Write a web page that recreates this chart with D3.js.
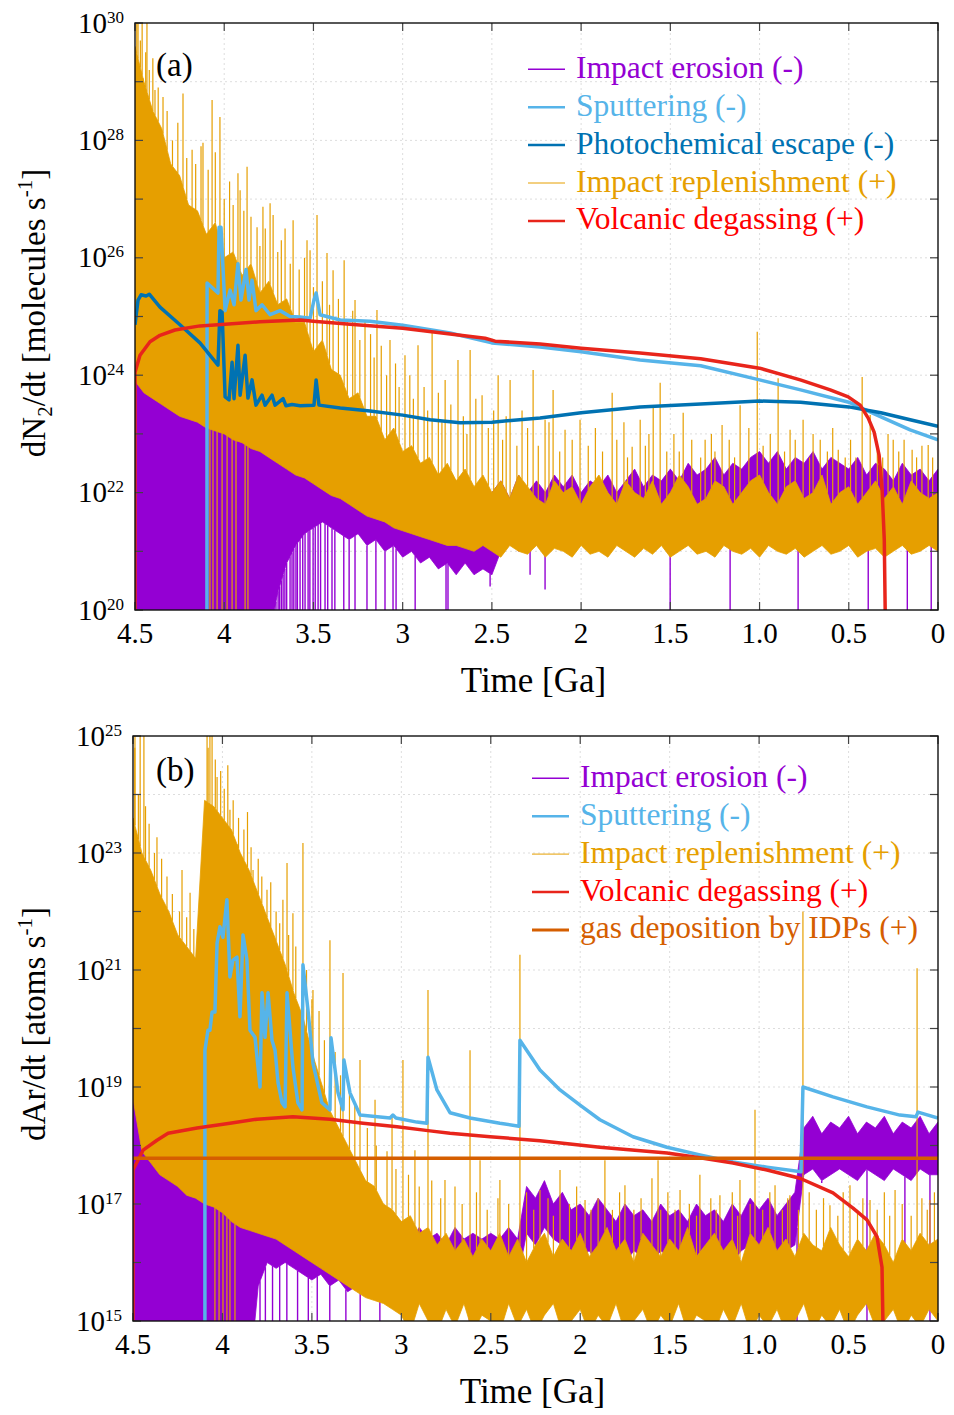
<!DOCTYPE html>
<html>
<head>
<meta charset="utf-8">
<script src="https://cdn.jsdelivr.net/npm/d3@7"></script>
<style>
  body { margin: 0; background: #fff; }
  svg { font-family: "Liberation Serif", "Times New Roman", serif; }
</style>
</head>
<body>
<svg id="chart" width="954" height="1415"></svg>
<script>
// ---- data (all values are log10 of the rate) ----
const xTicks = [4.5, 4, 3.5, 3, 2.5, 2, 1.5, 1, 0.5, 0];
const xTickLabels = ["4.5", "4", "3.5", "3", "2.5", "2", "1.5", "1.0", "0.5", "0"];
const yTicksA = [20, 22, 24, 26, 28, 30];
const yTicksB = [15, 17, 19, 21, 23, 25];

// sample times for the noisy impact bands [Ga]
const bandT = [4.5,4.45,4.4,4.35,4.3,4.25,4.2,4.15,4.1,4.05, 4.0,3.95,3.9,3.85,3.8,3.75,3.7,3.65,3.6,3.55,
  3.5,3.45,3.4,3.35,3.3,3.25,3.2,3.15,3.1,3.05, 3.0,2.95,2.9,2.85,2.8,2.75,2.7,2.65,2.6,2.55,
  2.5,2.45,2.4,2.35,2.3,2.25,2.2,2.15,2.1,2.05, 2.0,1.95,1.9,1.85,1.8,1.75,1.7,1.65,1.6,1.55,
  1.5,1.45,1.4,1.35,1.3,1.25,1.2,1.15,1.1,1.05, 1.0,0.95,0.9,0.85,0.8,0.75,0.7,0.65,0.6,0.55,
  0.5,0.45,0.4,0.35,0.3,0.25,0.2,0.15,0.1,0.05, 0];

// panel (a) N2
const aRepHi = [29.6,29.0,28.5,28.2,27.6,27.4,26.9,26.8,26.4,26.6, 26.0,26.1,25.7,25.9,25.4,25.6,25.2,25.3,24.9,24.9,
  24.4,24.6,24.1,24.0,23.6,23.7,23.3,23.3,22.9,23.1, 22.7,22.8,22.5,22.6,22.3,22.5,22.2,22.4,22.1,22.3,
  22.0,22.2,21.9,22.3,22.1,21.9,21.8,22.2,22.0,22.1, 21.8,22.1,22.3,22.0,21.8,22.2,22.0,21.9,22.2,21.8,
  22.0,22.3,22.1,21.8,21.9,22.2,22.1,21.8,22.0,22.2, 22.3,22.0,21.8,22.1,22.2,21.9,22.0,22.3,21.8,22.0,
  22.1,21.8,22.0,22.2,21.9,22.1,21.8,22.2,22.0,21.9, 22.0];
const aRepLo = [23.9,23.7,23.6,23.5,23.4,23.3,23.25,23.2,23.1,23.05, 23.0,22.9,22.85,22.75,22.7,22.6,22.5,22.4,22.3,22.25,
  22.15,22.05,21.95,21.9,21.8,21.7,21.6,21.55,21.5,21.4, 21.35,21.3,21.25,21.2,21.15,21.1,21.1,21.05,21.0,21.1,
  21.0,20.9,21.1,21.0,20.95,21.1,20.9,21.05,21.0,20.9, 21.1,20.95,21.0,20.9,21.1,21.0,20.9,21.05,20.95,21.1,
  20.9,21.0,21.1,20.95,21.0,20.9,21.1,21.0,20.95,21.05, 20.9,21.1,21.0,20.95,21.05,20.9,21.0,21.1,20.95,21.0,
  21.1,20.9,21.0,21.05,20.9,21.0,21.1,20.95,21.0,21.1, 21.0];
const aEroHi = [26.5,26.0,25.8,25.5,25.2,25.0,24.8,24.6,24.4,24.2, 24.0,23.8,23.6,23.5,23.3,23.1,23.0,22.9,22.8,22.6,
  22.5,22.4,22.3,22.2,22.1,22.0,21.9,21.9,21.8,21.8, 21.7,21.8,21.6,21.7,21.5,21.6,21.5,21.6,21.4,21.5,
  22.0,22.2,21.9,22.3,22.0,22.2,22.0,22.3,22.1,22.3, 22.0,22.2,22.1,22.3,22.0,22.2,22.4,22.1,22.3,22.2,
  22.4,22.2,22.5,22.3,22.4,22.6,22.3,22.5,22.4,22.6, 22.7,22.5,22.7,22.4,22.6,22.5,22.7,22.4,22.6,22.5,
  22.4,22.6,22.3,22.5,22.4,22.2,22.5,22.3,22.4,22.2, 22.4];
const aEroLo = [19,19,19,19,19,19,19,19,19,19, 19,19,19,19,19,19.5,20.3,20.8,21.1,21.3,
  21.4,21.5,21.4,21.3,21.2,21.3,21.1,21.2,21.0,21.1, 20.9,21.0,20.8,20.9,20.7,20.8,20.6,20.8,20.6,20.7,
  20.6,21.0,21.2,21.0,21.1,21.2,21.0,21.2,21.1,21.2, 21.2,21.3,21.4,21.3,21.5,21.4,21.3,21.5,21.4,21.5,
  21.5,21.4,21.6,21.5,21.6,21.5,21.7,21.5,21.6,21.5, 21.6,21.7,21.5,21.6,21.7,21.5,21.6,21.7,21.5,21.6,
  21.6,21.5,21.7,21.5,21.6,21.5,21.4,21.6,21.5,21.4, 21.5];
const aRepSpikes = [[4.49,30],[4.483,30],[4.47,29.7],[4.46,30],[4.455,28.98],[4.44,29.5],[4.433,30],[4.42,29.2],
  [4.40,29.4],[4.388,28.86],[4.37,28.9],[4.343,28.74],[4.32,28.5],[4.29,28.0],[4.26,28.3],[4.231,28.8],[4.21,27.7],
  [4.18,27.84],[4.16,27.6],[4.13,27.9],[4.119,27.96],[4.09,27.5],[4.068,28.69],[4.05,27.8],[4.024,28.4],[4.0,27.0],
  [3.97,27.3],[3.95,26.9],[3.923,27.44],[3.911,27.15],[3.89,26.8],[3.872,27.55],[3.85,26.7],[3.816,26.52],
  [3.80,26.2],[3.783,26.87],[3.77,26.5],[3.743,26.93],[3.726,26.73],[3.70,26.1],[3.68,26.3],[3.659,26.5],
  [3.63,25.9],[3.614,26.64],[3.58,25.8],[3.55,26.0],[3.536,26.3],[3.519,26.13],[3.50,25.5],[3.48,26.73],
  [3.45,25.6],[3.424,26.08],[3.41,25.2],[3.39,25.79],[3.36,25.3],[3.328,25.96],[3.31,24.9],[3.28,25.1],
  [3.267,25.28],[3.24,24.6],[3.211,24.94],[3.18,24.7],[3.16,24.3],[3.144,25.11],[3.12,24.5],[3.09,24.0],
  [3.071,24.6],[3.04,24.2],[3.02,23.8],[2.987,24.34],[2.96,24.0],[2.94,23.6],[2.914,24.51],[2.88,23.8],
  [2.86,23.4],[2.835,24.72],[2.80,23.7],[2.78,23.2],[2.762,23.92],[2.73,23.5],[2.69,24.26],[2.66,23.3],
  [2.64,23.0],[2.622,24.43],[2.59,23.6],[2.555,23.66],[2.52,23.1],[2.49,23.4],[2.465,24.0],[2.44,22.9],
  [2.42,23.3],[2.398,23.92],[2.36,22.8],[2.331,23.4],[2.30,23.1],[2.269,24.09],[2.24,22.8],[2.202,23.24],
  [2.18,23.2],[2.157,23.75],[2.12,22.7],[2.09,23.07],[2.05,22.9],[2.006,23.24],[1.96,22.8],[1.92,23.1],
  [1.88,22.7],[1.826,23.7],[1.80,22.9],[1.76,23.2],[1.74,22.6],[1.714,22.78],[1.669,23.24],[1.64,22.8],
  [1.62,23.0],[1.596,23.46],[1.557,23.87],[1.52,22.7],[1.48,23.0],[1.45,22.7],[1.428,23.36],[1.38,22.9],
  [1.33,22.6],[1.305,22.9],[1.27,23.0],[1.25,22.7],[1.21,23.15],[1.17,22.9],[1.14,22.6],[1.109,23.49],
  [1.06,23.1],[1.013,24.74],[0.98,22.8],[0.94,23.0],[0.896,23.95],[0.86,22.7],[0.829,23.07],[0.80,22.9],
  [0.756,23.24],[0.72,22.6],[0.70,23.0],[0.66,22.9],[0.62,22.7],[0.59,23.1],[0.559,22.73],[0.52,22.6],
  [0.49,22.9],[0.46,22.6],[0.425,23.97],[0.38,23.32],[0.34,22.8],[0.31,22.6],[0.28,23.0],[0.251,22.9],
  [0.22,22.7],[0.19,22.9],[0.145,22.73],[0.12,22.6],[0.09,22.8],[0.055,22.81],[0.03,22.6]];
const aRepDips = [[4.08,19],[4.063,19],[4.04,19],[4.012,19],[3.984,19],[3.956,19],[3.934,19],[3.883,19],[3.867,19]];
const aEroDips = [[3.79,19],[3.783,19],[3.77,19],[3.76,19],[3.754,19],[3.74,19],[3.732,19],[3.72,19],[3.71,19],
  [3.698,19],[3.69,19],[3.68,19],[3.67,19],[3.66,19],[3.65,19],[3.631,19],[3.62,19],[3.61,19],[3.598,19],[3.59,19],
  [3.575,19],[3.56,19],[3.547,19],[3.53,19],[3.52,19],[3.502,19],[3.49,19],[3.474,19],[3.46,19],[3.435,19],
  [3.42,19],[3.396,19],[3.38,19],[3.33,19],[3.30,19],[3.267,19],[3.20,19],[3.15,19],[3.099,19],[3.054,19],
  [3.037,19],[2.93,19],[2.757,19],[2.746,19],[2.51,20.4],[2.286,20.6],[2.202,20.35],[1.501,19],[1.165,19],
  [0.784,19],[0.391,19],[0.172,19],[0.038,19]];
const aSputter = [[4.097,19],[4.096,25.57],[4.035,25.4],[4.029,26.52],[4.018,26.52],[3.995,25.1],[3.967,25.45],
  [3.945,25.2],[3.923,25.9],[3.906,25.28],[3.878,25.8],[3.861,25.28],[3.844,25.62],[3.822,25.1],[3.788,25.2],
  [3.743,25.03],[3.687,25.1],[3.631,25.0],[3.575,24.99],[3.519,24.97],[3.497,25.28],[3.485,25.4],[3.463,25.03],
  [3.35,24.94],[3.183,24.92],[3.0,24.85],[2.734,24.72],[2.5,24.55],[2.23,24.48],[2.0,24.4],[1.67,24.26],
  [1.33,24.16],[1.0,23.92],[0.77,23.75],[0.5,23.54],[0.32,23.29],[0.156,23.07],[0,22.9]];
const aPhoto = [[4.5,24.86],[4.483,25.28],[4.466,25.37],[4.438,25.35],[4.42,25.38],[4.36,25.16],[4.248,24.86],
  [4.136,24.55],[4.035,24.17],[4.024,25.1],[4.012,25.07],[3.995,23.63],[3.973,23.58],[3.956,24.22],[3.945,23.6],
  [3.923,24.51],[3.911,23.66],[3.883,24.34],[3.867,23.61],[3.844,23.92],[3.822,23.49],[3.788,23.66],[3.771,23.49],
  [3.732,23.66],[3.715,23.49],[3.67,23.6],[3.654,23.48],[3.62,23.5],[3.575,23.48],[3.497,23.49],[3.485,23.92],
  [3.469,23.49],[3.35,23.44],[3.183,23.39],[3.0,23.32],[2.846,23.24],[2.678,23.19],[2.5,23.2],[2.23,23.27],
  [2.0,23.36],[1.67,23.46],[1.33,23.51],[1.0,23.56],[0.77,23.54],[0.5,23.46],[0.32,23.36],[0.156,23.24],[0,23.13]];
const aVolcanic = [[4.5,18],[4.5,24.05],[4.472,24.34],[4.416,24.57],[4.36,24.68],[4.276,24.77],[4.136,24.84],
  [3.995,24.87],[3.8,24.91],[3.575,24.94],[3.5,24.92],[3.295,24.87],[3.0,24.8],[2.734,24.7],[2.538,24.63],
  [2.482,24.58],[2.23,24.53],[2.0,24.46],[1.67,24.38],[1.33,24.28],[1.0,24.12],[0.772,23.92],[0.604,23.75],
  [0.503,23.63],[0.436,23.49],[0.391,23.27],[0.358,23.03],[0.33,22.64],[0.313,22.04],[0.301,21.19],[0.296,20],
  [0.295,18]];

// panel (b) Ar
const bRepHi = [23.6,23.0,22.7,22.3,22.0,21.6,21.4,21.2,23.9,23.8, 23.6,23.4,23.0,22.7,22.3,21.9,21.5,21.1,20.6,20.2,
  19.6,19.1,18.6,18.3,18.0,17.7,17.4,17.3,17.0,16.9, 16.7,16.8,16.5,16.6,16.3,16.5,16.2,16.4,16.1,16.4,
  16.2,16.5,16.1,16.4,16.0,16.3,16.5,16.1,16.4,16.2, 16.5,16.1,16.3,16.6,16.2,16.4,16.0,16.5,16.3,16.1,
  16.4,16.2,16.6,16.1,16.3,16.5,16.2,16.4,16.0,16.5, 16.3,16.6,16.2,16.4,16.1,16.5,16.3,16.2,16.6,16.3,
  16.1,16.4,16.2,16.5,16.3,16.0,16.4,16.2,16.5,16.3, 16.4];
const bRepLo = [18.8,17.9,17.7,17.5,17.4,17.3,17.15,17.1,17.0,16.95, 16.85,16.7,16.6,16.55,16.5,16.45,16.4,16.3,16.2,16.1,
  16.0,15.9,15.8,15.7,15.6,15.5,15.4,15.35,15.3,15.2, 15.1,14.8,15.3,15.0,14.8,15.2,14.9,15.3,14.8,15.1,
  15.0,14.8,15.3,14.9,15.2,14.8,15.1,15.3,14.8,15.0, 15.2,14.8,15.1,14.9,15.3,14.8,15.0,15.2,14.8,15.1,
  14.9,15.3,14.8,15.1,15.0,14.8,15.2,14.9,15.3,14.8, 15.1,14.9,15.2,14.8,15.0,15.3,14.8,15.1,14.9,15.2,
  14.8,15.1,15.3,14.9,15.0,15.2,14.8,15.1,14.9,15.2, 15.0];
const bEroHi = [23.0,22.5,22.2,21.9,21.7,21.4,21.2,20.9,20.5,20.3, 20.0,19.8,19.5,19.2,18.9,18.6,18.3,18.0,17.8,17.6,
  17.4,17.2,17.0,16.9,16.8,16.9,16.7,16.8,16.6,16.7, 16.5,16.3,16.6,16.4,16.5,16.3,16.6,16.4,16.5,16.4,
  16.5,16.4,16.6,16.4,17.3,17.1,17.4,17.0,17.2,16.9, 17.0,16.8,17.1,16.9,16.7,17.0,16.8,16.9,16.7,17.0,
  16.8,16.9,16.7,17.0,16.8,16.9,16.7,17.0,16.8,17.1, 16.9,17.1,16.8,17.0,17.2,18.3,18.5,18.2,18.4,18.3,
  18.5,18.2,18.4,18.3,18.5,18.2,18.4,18.3,18.5,18.2, 18.4];
const bEroLo = [14,14,14,14,14,14,14,14,14,14, 14,14,14,14,15.6,16.0,15.9,16.0,15.9,15.8,
  15.7,15.8,15.6,15.7,15.5,15.6,15.7,15.5,15.6,15.7, 15.8,15.6,15.9,15.7,15.8,15.6,15.9,15.7,15.8,15.9,
  15.7,15.9,15.8,15.7,16.5,16.3,16.6,16.4,16.3,16.2, 16.1,16.2,16.0,16.2,16.1,16.0,16.2,16.1,16.0,16.2,
  16.1,16.2,16.0,16.1,16.3,16.1,16.2,16.0,16.2,16.3, 16.2,16.3,16.1,16.2,16.3,17.5,17.6,17.4,17.5,17.6,
  17.5,17.4,17.6,17.5,17.4,17.6,17.5,17.4,17.6,17.5, 17.5];
const bRepSpikes = [[4.49,24.8],[4.489,25],[4.47,24.0],[4.46,25],[4.439,25],[4.43,23.8],[4.41,23.5],[4.38,23.0],
  [4.366,23.27],[4.34,22.9],[4.31,22.6],[4.28,22.3],[4.24,22.0],[4.226,22.71],[4.20,21.9],[4.181,22.32],[4.16,21.7],
  [4.086,25],[4.08,24.8],[4.07,25],[4.058,25],[4.04,24.6],[4.03,24.3],[4.01,24.4],[3.99,24.1],[3.97,24.5],
  [3.958,23.74],[3.94,23.9],[3.919,23.1],[3.91,23.6],[3.88,23.4],[3.86,23.7],[3.84,23.1],[3.829,22.71],[3.80,22.9],
  [3.78,22.6],[3.773,21.97],[3.751,22.37],[3.73,22.5],[3.70,22.0],[3.68,21.8],[3.662,22.2],[3.639,22.83],[3.63,21.6],
  [3.606,21.97],[3.59,21.4],[3.55,23.17],[3.53,21.0],[3.50,20.5],[3.494,20.66],[3.46,20.3],[3.43,19.8],[3.399,21.51],
  [3.37,19.6],[3.34,19.2],[3.326,20.95],[3.29,18.9],[3.26,18.7],[3.231,19.46],[3.19,18.3],[3.147,18.78],[3.14,18.0],
  [3.08,17.9],[3.052,18.49],[3.03,17.6],[2.991,19.46],[2.96,17.5],[2.924,17.92],[2.90,17.3],[2.851,20.66],[2.83,17.4],
  [2.78,17.1],[2.756,17.41],[2.70,17.3],[2.66,17.0],[2.616,19.63],[2.58,17.2],[2.56,17.75],[2.52,16.9],[2.46,17.1],
  [2.449,17.41],[2.40,17.0],[2.337,21.26],[2.30,17.2],[2.26,16.9],[2.225,17.24],[2.18,17.1],[2.15,16.8],[2.113,17.58],
  [2.06,17.0],[2.02,17.3],[1.973,17.07],[1.94,16.9],[1.90,17.1],[1.862,17.75],[1.82,16.9],[1.78,17.2],[1.75,17.32],
  [1.70,16.9],[1.66,17.1],[1.599,17.44],[1.565,17.75],[1.55,16.9],[1.51,17.2],[1.47,16.9],[1.442,17.24],[1.39,17.0],
  [1.35,16.8],[1.331,17.5],[1.27,17.1],[1.24,16.9],[1.219,17.15],[1.15,17.2],[1.12,16.8],[1.107,17.41],[1.05,17.0],
  [1.023,18.61],[0.98,16.9],[0.94,17.2],[0.911,17.32],[0.87,16.9],[0.84,17.1],[0.828,17.15],[0.78,16.9],[0.755,22.0],
  [0.72,17.2],[0.68,16.9],[0.64,17.1],[0.604,16.98],[0.56,16.8],[0.53,17.2],[0.492,17.32],[0.45,16.9],[0.42,17.1],
  [0.38,17.07],[0.34,16.9],[0.30,17.2],[0.27,16.8],[0.24,17.24],[0.20,17.0],[0.15,16.8],[0.117,21.03],[0.09,17.1],
  [0.06,16.9],[0.045,17.07],[0.02,17.2]];
const bRepDips = [[4.042,14],[4.019,14],[3.997,14],[3.975,14],[3.958,14],[3.93,14]];
const bEroDips = [[3.79,14],[3.76,14],[3.72,14],[3.68,14],[3.64,14],[3.58,14],[3.52,14],[3.47,14],[3.40,14],
  [3.31,14],[3.23,14],[3.12,14],[2.98,14],[2.84,14],[2.70,14],[2.62,14],[2.5,14],[2.45,14],[2.1,15.6],[1.9,15.5],
  [1.6,15.7],[1.3,15.6],[0.788,14],[0.65,17.36],[0.397,14],[0.185,14],[0.045,14]];
const bSputter = [[4.098,14],[4.098,19.63],[4.081,19.97],[4.07,19.97],[4.058,20.28],[4.042,20.28],[4.03,21.46],
  [4.014,21.74],[3.997,21.56],[3.975,22.2],[3.958,20.88],[3.941,21.17],[3.919,21.22],[3.902,20.2],[3.885,21.6],
  [3.863,21.17],[3.846,19.97],[3.818,19.85],[3.79,19.0],[3.779,20.61],[3.762,19.85],[3.745,20.61],[3.723,19.8],
  [3.706,19.63],[3.689,19.07],[3.667,18.73],[3.65,18.66],[3.639,20.61],[3.606,19.34],[3.578,18.73],[3.555,18.61],
  [3.55,21.09],[3.522,20.32],[3.494,19.41],[3.444,18.73],[3.399,18.61],[3.393,19.84],[3.354,18.9],[3.326,18.61],
  [3.321,19.46],[3.287,18.9],[3.231,18.52],[3.063,18.47],[3.047,18.52],[3.03,18.47],[2.913,18.4],[2.857,18.38],
  [2.851,19.51],[2.801,18.95],[2.728,18.56],[2.616,18.47],[2.449,18.38],[2.342,18.33],[2.337,19.8],[2.225,19.29],
  [2.113,18.95],[2.001,18.69],[1.89,18.44],[1.705,18.15],[1.515,17.97],[1.331,17.84],[1.146,17.72],[0.956,17.63],
  [0.766,17.55],[0.755,19.0],[0.587,18.83],[0.397,18.66],[0.213,18.52],[0.123,18.49],[0.112,18.57],[0,18.47]];
const bVolcanic = [[4.5,14],[4.5,17.58],[4.444,17.92],[4.366,18.09],[4.304,18.21],[4.142,18.3],[3.958,18.38],
  [3.807,18.45],[3.606,18.49],[3.399,18.45],[3.214,18.38],[3.024,18.32],[2.84,18.25],[2.728,18.21],[2.504,18.15],
  [2.225,18.08],[1.89,17.97],[1.515,17.87],[1.331,17.79],[1.146,17.7],[0.956,17.58],[0.772,17.44],[0.587,17.19],
  [0.475,16.93],[0.397,16.73],[0.341,16.44],[0.313,15.92],[0.308,15],[0.307,14]];
const bIDP = [[4.5,17.78],[0,17.78]];

// ---- drawing ----
const C = { ero: "#9400d3", sput: "#56b4e9", photo: "#0072b2", rep: "#e69f00", volc: "#e8251b", idp: "#d55e00" };
const svg = d3.select("#chart");

const panels = [
  {
    id: "a", left: 135, right: 938, top: 23, bottom: 610, ylo: 20, yhi: 30, yTicks: yTicksA,
    ero: { hi: aEroHi, lo: aEroLo, dips: aEroDips },
    rep: { hi: aRepHi, lo: aRepLo, spikes: aRepSpikes, dips: aRepDips },
    lines: [[aSputter, C.sput], [aPhoto, C.photo], [aVolcanic, C.volc]],
    legendX: 528, legendY: 69.3,
    legend: [["Impact erosion (-)", C.ero, 1.5, C.ero], ["Sputtering (-)", C.sput, 2.5, C.sput],
      ["Photochemical escape (-)", C.photo, 2.5, C.photo], ["Impact replenishment (+)", C.rep, 1, C.rep],
      ["Volcanic degassing (+)", C.volc, 2.5, "#ff0000"]],
    tag: "(a)", tagY: 76, yTitle: [["dN"], ["2", "sub"], ["/dt [molecules s"], ["-1", "sup"], ["]"]], yTitleY: 313
  },
  {
    id: "b", left: 133, right: 938, top: 736, bottom: 1321, ylo: 15, yhi: 25, yTicks: yTicksB,
    ero: { hi: bEroHi, lo: bEroLo, dips: bEroDips },
    rep: { hi: bRepHi, lo: bRepLo, spikes: bRepSpikes, dips: bRepDips },
    lines: [[bSputter, C.sput], [bVolcanic, C.volc], [bIDP, C.idp]],
    legendX: 532, legendY: 778.3,
    legend: [["Impact erosion (-)", C.ero, 1.5, C.ero], ["Sputtering (-)", C.sput, 2.5, C.sput],
      ["Impact replenishment (+)", C.rep, 1, C.rep], ["Volcanic degassing (+)", C.volc, 2.5, "#ff0000"],
      ["gas deposition by IDPs (+)", C.idp, 3, C.idp]],
    tag: "(b)", tagY: 781, yTitle: [["dAr/dt [atoms s"], ["-1", "sup"], ["]"]], yTitleY: 1024
  }
];

function bandAt(vals, t) {
  for (let i = 0; i < bandT.length - 1; i++) {
    if (t <= bandT[i] && t >= bandT[i + 1]) {
      const f = (bandT[i] - t) / (bandT[i] - bandT[i + 1]);
      return vals[i] + f * (vals[i + 1] - vals[i]);
    }
  }
  return vals[vals.length - 1];
}

panels.forEach(p => {
  const x = d3.scaleLinear().domain([4.5, 0]).range([p.left, p.right]);
  const y = d3.scaleLog().domain([Math.pow(10, p.ylo), Math.pow(10, p.yhi)]).range([p.bottom, p.top]);
  const Y = v => y(Math.pow(10, v));
  const g = svg.append("g");
  const decades = d3.range(p.ylo, p.yhi + 1);

  svg.append("clipPath").attr("id", "clip-" + p.id)
    .append("rect").attr("x", p.left).attr("y", p.top)
    .attr("width", p.right - p.left).attr("height", p.bottom - p.top);

  // grid
  const grid = g.append("g").attr("stroke", "#d4d4d4").attr("stroke-dasharray", "2,3").attr("stroke-width", 0.8);
  grid.selectAll(".gx").data(xTicks.slice(1, -1)).enter().append("line")
    .attr("x1", d => x(d)).attr("x2", d => x(d)).attr("y1", p.top).attr("y2", p.bottom);
  grid.selectAll(".gy").data(decades.slice(1, -1)).enter().append("line")
    .attr("x1", p.left).attr("x2", p.right).attr("y1", d => Y(d)).attr("y2", d => Y(d));

  const plot = g.append("g").attr("clip-path", `url(#clip-${p.id})`);
  const band = (hi, lo) => d3.area()
    .x((d, i) => x(bandT[i])).y0((d, i) => Y(lo[i])).y1((d, i) => Y(hi[i]))(hi);

  // impact erosion
  plot.append("path").attr("d", band(p.ero.hi, p.ero.lo))
    .attr("fill", C.ero).attr("stroke", C.ero).attr("stroke-width", 0.8);
  plot.selectAll(".edip").data(p.ero.dips).enter().append("line")
    .attr("x1", d => x(d[0])).attr("x2", d => x(d[0]))
    .attr("y1", d => Y(bandAt(p.ero.lo, d[0]))).attr("y2", d => Y(d[1]))
    .attr("stroke", C.ero).attr("stroke-width", 1.4);

  // impact replenishment
  plot.append("path").attr("d", band(p.rep.hi, p.rep.lo))
    .attr("fill", C.rep).attr("stroke", C.rep).attr("stroke-width", 0.8);
  plot.selectAll(".rspike").data(p.rep.spikes).enter().append("line")
    .attr("x1", d => x(d[0])).attr("x2", d => x(d[0]))
    .attr("y1", d => Y(bandAt(p.rep.hi, d[0]))).attr("y2", d => Y(d[1]))
    .attr("stroke", C.rep).attr("stroke-width", 1.2);
  plot.selectAll(".rdip").data(p.rep.dips).enter().append("line")
    .attr("x1", d => x(d[0])).attr("x2", d => x(d[0]))
    .attr("y1", d => Y(bandAt(p.rep.lo, d[0]))).attr("y2", d => Y(d[1]))
    .attr("stroke", C.rep).attr("stroke-width", 1.2);

  // smooth rates
  const line = d3.line().x(d => x(d[0])).y(d => Y(d[1]));
  p.lines.forEach(([data, color]) => {
    plot.append("path").attr("d", line(data)).attr("fill", "none")
      .attr("stroke", color).attr("stroke-width", 3.5).attr("stroke-linejoin", "round");
  });

  // ticks (inward on all sides)
  const tk = g.append("g").attr("stroke", "#444").attr("stroke-width", 1.2);
  xTicks.forEach(t => {
    tk.append("line").attr("x1", x(t)).attr("x2", x(t)).attr("y1", p.bottom).attr("y2", p.bottom - 8);
    tk.append("line").attr("x1", x(t)).attr("x2", x(t)).attr("y1", p.top).attr("y2", p.top + 8);
  });
  decades.forEach(e => {
    tk.append("line").attr("x1", p.left).attr("x2", p.left + 8).attr("y1", Y(e)).attr("y2", Y(e));
    tk.append("line").attr("x1", p.right).attr("x2", p.right - 8).attr("y1", Y(e)).attr("y2", Y(e));
  });

  // frame
  g.append("rect").attr("x", p.left).attr("y", p.top)
    .attr("width", p.right - p.left).attr("height", p.bottom - p.top)
    .attr("fill", "none").attr("stroke", "#111").attr("stroke-width", 1.4);

  // x tick labels
  g.selectAll(".xl").data(xTicks).enter().append("text")
    .attr("x", d => x(d)).attr("y", p.bottom + 33).attr("text-anchor", "middle")
    .attr("font-size", 29).text((d, i) => xTickLabels[i]);

  // y tick labels 10^n
  p.yTicks.forEach(e => {
    const t = g.append("text").attr("x", p.left - 11).attr("y", Y(e) + 9.5).attr("text-anchor", "end");
    t.append("tspan").attr("font-size", 29).text("10");
    t.append("tspan").attr("font-size", 17).attr("dy", -10).text(e);
  });

  // axis titles
  g.append("text").attr("x", (p.left + p.right) / 2 - 3).attr("y", p.bottom + 82)
    .attr("text-anchor", "middle").attr("font-size", 35).text("Time [Ga]");
  const yt = g.append("text").attr("transform", `translate(45,${p.yTitleY}) rotate(-90)`)
    .attr("text-anchor", "middle").attr("font-size", 33);
  let shift = 0;
  p.yTitle.forEach(([s, kind]) => {
    const ts = yt.append("tspan").text(s);
    if (kind === "sub") { ts.attr("font-size", 21).attr("dy", 7 - shift); shift = 7; }
    else if (kind === "sup") { ts.attr("font-size", 21).attr("dy", -13 - shift); shift = -13; }
    else { ts.attr("dy", -shift); shift = 0; }
  });

  // panel tag
  g.append("text").attr("x", 156).attr("y", p.tagY).attr("font-size", 33).text(p.tag);

  // legend
  p.legend.forEach(([label, color, w, tc], i) => {
    const ly = p.legendY + i * 37.9;
    g.append("line").attr("x1", p.legendX).attr("x2", p.legendX + 37).attr("y1", ly).attr("y2", ly)
      .attr("stroke", color).attr("stroke-width", w);
    g.append("text").attr("x", p.legendX + 48).attr("y", ly + 8.5).attr("font-size", 31.5)
      .attr("fill", tc).text(label);
  });
});
</script>
</body>
</html>
